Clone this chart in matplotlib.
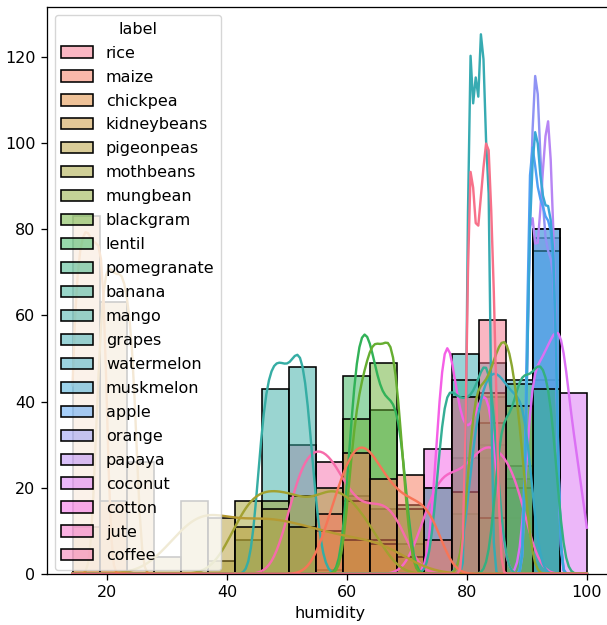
import numpy as np
import matplotlib
matplotlib.use('Agg')
import matplotlib.pyplot as plt
from matplotlib.patches import Patch
import seaborn as sns

labels = ['rice', 'maize', 'chickpea', 'kidneybeans', 'pigeonpeas', 'mothbeans',
          'mungbean', 'blackgram', 'lentil', 'pomegranate', 'banana', 'mango',
          'grapes', 'watermelon', 'muskmelon', 'apple', 'orange', 'papaya',
          'coconut', 'cotton', 'jute', 'coffee']

# humidity values and number of samples at each value, per crop
rice_hum = [80.5, 81.5, 82.5, 83.5, 84.5]
rice_cnt = [25, 16, 20, 24, 15]
maize_hum = [56.5, 58.5, 60.5, 62.5, 64.5, 66.5, 68.5, 70.5, 72.5, 74.5]
maize_cnt = [5, 9, 13, 15, 12, 10, 8, 8, 7, 8]
chickpea_hum = [14.5, 15.5, 16.5, 17.5, 18.5, 19.5]
chickpea_cnt = [14, 17, 18, 17, 17, 17]
kidneybeans_hum = [18.5, 19.5, 20.5, 21.5, 22.5, 23.5, 24.5]
kidneybeans_cnt = [11, 16, 16, 15, 16, 14, 12]
pigeonpeas_hum = [31.5, 33.5, 35.5, 37.5, 39.5, 42.5, 44.5, 46.5, 48.5,
                  51.5, 53.5, 55.5, 57.5, 60.5, 62.5, 64.5, 66.5, 68.5]
pigeonpeas_cnt = [4, 8, 9, 7, 6, 6, 5, 8, 7, 6, 5, 5, 5, 4, 4, 4, 3, 4]
mothbeans_hum = [40.5, 42.5, 44.5, 46.5, 48.5, 50.5, 52.5, 55.5, 57.5, 59.5, 61.5, 64.5]
mothbeans_cnt = [3, 8, 9, 9, 8, 9, 9, 10, 10, 8, 9, 8]
mungbean_hum = [80.5, 81.5, 82.5, 83.5, 84.5, 85.5, 86.5, 87.5, 88.5, 89.5]
mungbean_cnt = [8, 11, 9, 10, 11, 12, 13, 11, 9, 6]
blackgram_hum = [60.5, 61.5, 62.5, 63.5, 64.5, 65.5, 66.5, 67.5, 68.5, 69.5]
blackgram_cnt = [6, 9, 10, 11, 13, 11, 12, 13, 10, 5]
lentil_hum = [60.5, 61.5, 62.5, 63.5, 64.5, 65.5, 66.5, 67.5, 68.5, 69.5]
lentil_cnt = [8, 12, 13, 13, 11, 9, 9, 9, 9, 7]
pomegranate_hum = [85.5, 86.5, 87.5, 88.5, 89.5, 90.5, 91.5, 92.5, 93.5, 94.5]
pomegranate_cnt = [13, 6, 8, 10, 12, 8, 12, 11, 10, 10]
banana_hum = [75.5, 76.5, 77.5, 78.5, 79.5, 80.5, 81.5, 82.5, 83.5, 84.5]
banana_cnt = [9, 11, 9, 9, 9, 9, 9, 11, 12, 12]
mango_hum = [45.5, 46.5, 47.5, 48.5, 49.5, 50.5, 51.5, 52.5, 53.5, 54.5, 55.5]
mango_cnt = [8, 10, 11, 11, 11, 10, 12, 12, 10, 4, 1]
grapes_hum = [80.5, 81.5, 82.5, 83.5]
grapes_cnt = [27, 24, 28, 21]
watermelon_hum = [80.5, 81.5, 82.5, 83.5, 84.5, 85.5, 86.5, 87.5, 88.5, 89.5, 90.5]
watermelon_cnt = [6, 8, 10, 10, 11, 10, 10, 9, 9, 10, 7]
muskmelon_hum = [90.5, 91.5, 92.5, 93.5, 94.5]
muskmelon_cnt = [20, 24, 19, 19, 18]
apple_hum = [90.5, 91.5, 92.5, 93.5, 94.5]
apple_cnt = [25, 20, 19, 18, 18]
orange_hum = [90.5, 91.5, 92.5, 93.5, 94.5]
orange_cnt = [20, 28, 19, 16, 17]
papaya_hum = [90.5, 91.5, 92.5, 93.5, 94.5]
papaya_cnt = [22, 15, 20, 25, 18]
coconut_hum = [90.5, 91.5, 92.5, 93.5, 94.5, 95.5, 96.5, 97.5, 98.5, 99.5]
coconut_cnt = [13, 10, 11, 12, 12, 14, 11, 7, 6, 4]
cotton_hum = [75.5, 76.5, 77.5, 78.5, 79.5, 80.5, 81.5, 82.5, 83.5, 84.5]
cotton_cnt = [14, 15, 11, 8, 7, 7, 8, 10, 10, 10]
jute_hum = [71.5, 72.5, 73.5, 74.5, 75.5, 76.5, 77.5, 78.5, 79.5, 80.5,
            81.5, 82.5, 83.5, 84.5, 85.5, 86.5, 87.5, 88.5, 89.5]
jute_cnt = [2, 2, 4, 5, 5, 6, 5, 5, 5, 6, 6, 7, 7, 7, 6, 6, 6, 5, 5]
coffee_hum = [50.5, 51.5, 52.5, 53.5, 54.5, 55.5, 56.5, 57.5, 58.5, 59.5,
              60.5, 61.5, 62.5, 63.5, 64.5, 65.5, 66.5, 67.5, 68.5, 69.5]
coffee_cnt = [5, 6, 6, 7, 6, 7, 7, 6, 6, 4, 4, 4, 3, 3, 4, 4, 4, 3, 4, 3]

# humidity range of the whole dataset, and number of bins
hum_min, hum_max, n_bins = 14.26, 99.98, 19

crops = {
    'rice': (rice_hum, rice_cnt), 'maize': (maize_hum, maize_cnt),
    'chickpea': (chickpea_hum, chickpea_cnt), 'kidneybeans': (kidneybeans_hum, kidneybeans_cnt),
    'pigeonpeas': (pigeonpeas_hum, pigeonpeas_cnt), 'mothbeans': (mothbeans_hum, mothbeans_cnt),
    'mungbean': (mungbean_hum, mungbean_cnt), 'blackgram': (blackgram_hum, blackgram_cnt),
    'lentil': (lentil_hum, lentil_cnt), 'pomegranate': (pomegranate_hum, pomegranate_cnt),
    'banana': (banana_hum, banana_cnt), 'mango': (mango_hum, mango_cnt),
    'grapes': (grapes_hum, grapes_cnt), 'watermelon': (watermelon_hum, watermelon_cnt),
    'muskmelon': (muskmelon_hum, muskmelon_cnt), 'apple': (apple_hum, apple_cnt),
    'orange': (orange_hum, orange_cnt), 'papaya': (papaya_hum, papaya_cnt),
    'coconut': (coconut_hum, coconut_cnt), 'cotton': (cotton_hum, cotton_cnt),
    'jute': (jute_hum, jute_cnt), 'coffee': (coffee_hum, coffee_cnt),
}

# the reference looks like a default figure scaled up a bit
scale = 1.15
plt.rcParams.update({
    'font.size': 10 * scale,
    'axes.linewidth': 0.8 * scale,
    'xtick.major.size': 3.5 * scale, 'ytick.major.size': 3.5 * scale,
    'xtick.major.width': 0.8 * scale, 'ytick.major.width': 0.8 * scale,
    'xtick.major.pad': 3.5 * scale, 'ytick.major.pad': 3.5 * scale,
})

colors = sns.color_palette('husl', len(labels))
edges = np.linspace(hum_min, hum_max, n_bins + 1)
bin_width = edges[1] - edges[0]
grid = np.linspace(hum_min, hum_max, 200)


def kde_counts(hum, cnt):
    # weighted gaussian kde (scott bandwidth), scaled to counts like histplot
    x = np.asarray(hum, float)
    w = np.asarray(cnt, float)
    n = w.sum()
    mean = np.average(x, weights=w)
    sd = np.sqrt(np.average((x - mean) ** 2, weights=w))
    bw = sd * n ** (-1 / 5)
    k = np.exp(-0.5 * ((grid[None, :] - x[:, None]) / bw) ** 2)
    dens = (w[:, None] * k).sum(axis=0) / (n * bw * np.sqrt(2 * np.pi))
    return dens * n * bin_width


fig = plt.figure(figsize=(6.07, 6.25), dpi=100)
ax = fig.add_axes([0.0771, 0.0816, 0.9321, 0.9067])

# draw last label first so 'rice' ends up on top (like seaborn)
for i in reversed(range(len(labels))):
    hum, cnt = crops[labels[i]]
    counts, _ = np.histogram(hum, bins=edges, weights=cnt)
    ax.bar(edges[:-1], counts, width=bin_width, align='edge',
           facecolor=(*colors[i], 0.5), edgecolor='black', linewidth=1 * scale)
    ax.plot(grid, kde_counts(hum, cnt), color=colors[i], linewidth=1.5 * scale)

handles = [Patch(facecolor=(*c, 0.5), edgecolor='black', linewidth=1 * scale) for c in colors]
ax.legend(handles, labels, title='label', loc='upper left', labelspacing=0.56)
ax.set_xlabel('humidity')
ax.spines['right'].set_visible(False)

fig.savefig('out.png', dpi=100)
